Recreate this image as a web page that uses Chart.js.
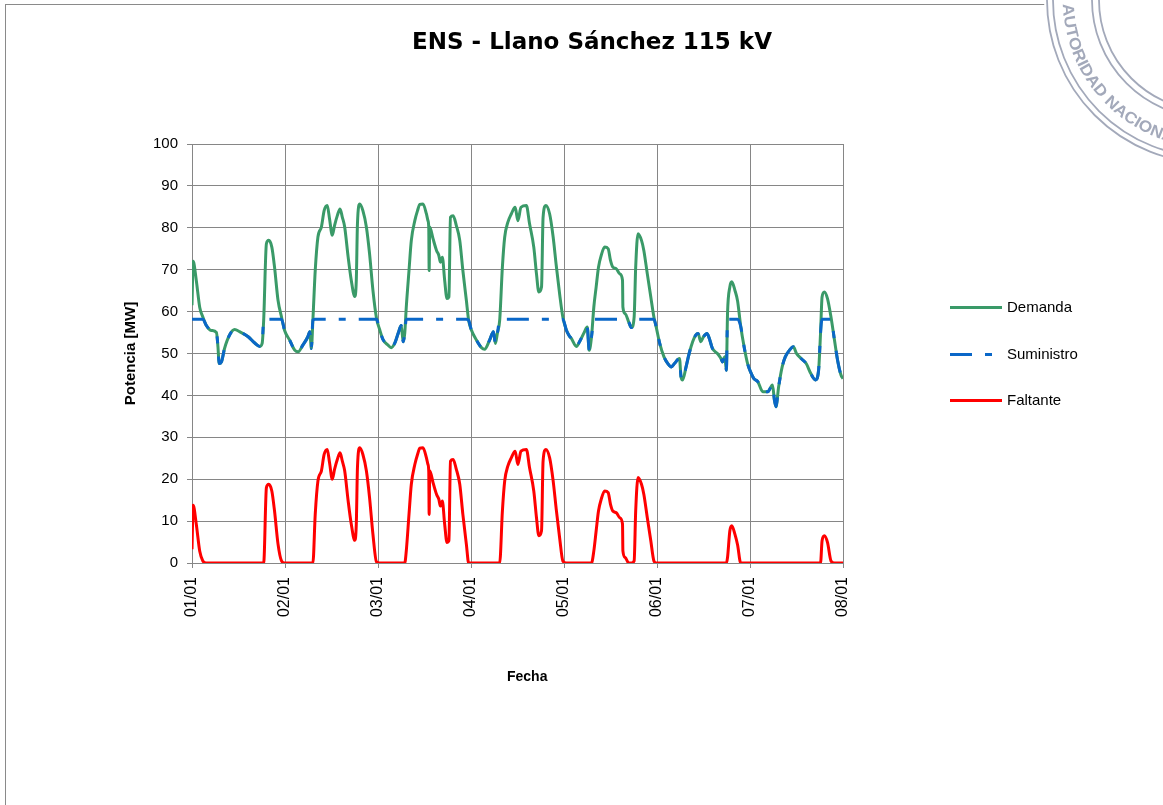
<!DOCTYPE html>
<html>
<head>
<meta charset="utf-8">
<script src="https://cdn.jsdelivr.net/npm/chart.js@4.4.1/dist/chart.umd.min.js"></script>
<style>
  html, body { margin:0; padding:0; background:#fff; width:1163px; height:805px; overflow:hidden; }
  #frame { position:absolute; left:5px; top:4px; width:1200px; height:850px; border:1px solid #8a8a8a; box-sizing:border-box; }
  #wrap { position:absolute; left:6px; top:5px; width:1172px; height:815px; }
  #stamp { position:absolute; left:0; top:0; pointer-events:none; }
</style>
</head>
<body>
<div id="frame"></div>
<div id="wrap"><canvas id="c" width="1172" height="815"></canvas></div>
<svg id="stamp" width="1163" height="805" xmlns="http://www.w3.org/2000/svg">
  <defs><path id="arc" d="M 1063 4 A 147 147 0 0 0 1200 147"></path></defs>
  <circle cx="1210" cy="0" r="166" fill="#ffffff"></circle>
  <g fill="none" stroke="#a3a9ba" stroke-width="1.8">
    <circle cx="1210" cy="0" r="163"></circle>
    <circle cx="1210" cy="0" r="157"></circle>
    <circle cx="1210" cy="0" r="118"></circle>
    <circle cx="1210" cy="0" r="111"></circle>
  </g>
  <text font-family="'Liberation Sans', sans-serif" font-weight="bold" font-size="16" fill="#a3a9ba"><textPath href="#arc" textLength="200" lengthAdjust="spacingAndGlyphs">AUTORIDAD NACIONAL</textPath></text>
</svg>
<script>
// ---- data (x in hours from 01/01 00:00) ----
const dayLabels = ['01/01','02/01','03/01','04/01','05/01','06/01','07/01','08/01'];

const hours = [
  0,0.3,1.1,2.0,2.8,3.7,5.0,6.3,6.7,7.0,
  7.6,8.4,9.7,11.0,12.3,14.5,16.2,17.5,18.1,18.5,
  19.2,19.8,20.6,21.3,22.2,23.1,23.9,25.2,26.5,27.4,
  28.6,29.9,30.4,30.8,31.2,31.8,32.5,33.4,34.1,34.9,
  35.5,36.2,36.8,37.5,38.2,38.8,39.4,40.3,41.1,42.0,
  42.4,42.7,43.3,44.1,45.0,45.8,46.7,47.6,48.4,49.3,
  50.6,51.4,52.3,53.2,54.0,54.5,54.9,55.3,56.0,56.6,
  57.5,58.2,58.8,59.6,60.5,60.9,61.1,61.2,61.35,62.2,
  63.1,63.7,64.1,64.6,65.2,65.8,66.3,66.7,67.4,68.2,
  69.1,69.9,70.8,71.4,72.1,73.4,74.7,75.5,76.8,77.8,
  78.3,78.8,79.4,80.1,80.7,81.5,82.4,83.4,84.1,84.9,
  86.3,87.1,88.2,88.9,89.5,90.2,90.6,91.3,92.3,93.2,
  94.0,94.9,95.7,96.6,97.3,97.9,99.2,100.0,101.3,102.0,
  102.5,103.1,103.7,104.3,104.9,105.6,106.5,107.4,108.0,108.6,
  109.5,110.4,111.1,111.2,111.8,112.7,113.4,114.1,114.5,115.1,
  116.0,116.6,117.5,118.4,119.2,119.8,120.7,121.8,122.8,123.7,
  124.5,125.8,126.2,126.6,127.5,128.3,129.2,130.0,130.6,131.3,
  132.0,132.9,133.5,134.3,135.6,136.5,136.9,137.5,137.9,138.2,
  138.8,139.3,140.1,140.8,141.6,142.5,143.4,144.2,145.0,146.0,
  147.3,148.6,149.8,150.3,150.7,151.4,152.3,153.1,154.2,155.2,
  156.0,157.2,158.5,159.7,160.9,161.7,162.2,162.6,163.2,164.0,
  164.9,165.8,166.6,167.5,168
];

const demanda = [
  61.5,72,67.5,61,58.7,56.7,55.5,55,51.6,47.6,
  48,51.2,54.4,55.7,55.2,54,52.5,51.7,52.4,58,
  76.2,77,75.4,70.6,62.7,58.7,55.5,53.2,50.8,50.4,
  52,54,55.2,51.2,58,69.8,77.8,80.2,84.1,85.3,
  82.1,78.2,80.6,82.9,84.5,82.5,80.2,73,67.5,63.6,
  67.5,81,85.7,84.1,80.2,74,65,58.5,55.8,53.3,
  52,51.4,52.4,54.8,56.7,52.8,54.8,61.1,69.8,77,
  81.7,84.1,85.6,85.7,83.3,81.7,80,69.8,80.2,77.4,
  74.6,73.4,71.8,73,67.5,63.1,63.5,82.5,82.9,80.6,
  77,69.8,62.7,57.9,55.6,53.2,51.4,51,53.2,55.2,
  52.4,54.8,57.9,70.6,77.8,81.3,83.3,84.9,81.7,84.9,
  85.3,81,75.4,69,64.7,65.9,82.5,85.3,83.3,77.8,
  71,64,58.7,55.6,54.3,53.6,51.7,52.8,55.2,56.3,
  50.8,54,61.1,65.9,70.6,73.4,75.4,75,72.2,70.6,
  70.2,69,67.5,61.1,59.5,57.5,56.2,58.7,70.6,78.6,
  77,74.6,69,63.5,58.7,56.3,52.4,49.2,47.6,46.8,
  47.6,48.8,44.4,43.7,46.8,50,52.8,54.4,54.8,52.8,
  54,54.8,53.6,51.2,50,48.8,48,49.2,46,59.5,
  65.9,67.1,65.1,62.5,56.5,51.5,47.5,45.5,44,43.3,
  40.9,40.9,42.5,38.9,37.3,42.1,46.8,49.2,50.8,51.6,
  50,48.8,47.6,45.2,43.7,46,54.8,63.5,64.7,63.1,
  58.7,53.2,48.4,44.8,44
];

const suministro = [
  58.2,58.2,58.2,58.2,58.2,56.7,55.5,55,51.6,47.6,
  48,51.2,54.4,55.7,55.2,54,52.5,51.7,52.4,58,
  58.2,58.2,58.2,58.2,58.2,58.2,55.5,53.2,50.8,50.4,
  52,54,55.2,51.2,58,58.2,58.2,58.2,58.2,58.2,
  58.2,58.2,58.2,58.2,58.2,58.2,58.2,58.2,58.2,58.2,
  58.2,58.2,58.2,58.2,58.2,58.2,58.2,58.2,55.8,53.3,
  52,51.4,52.4,54.8,56.7,52.8,54.8,58.2,58.2,58.2,
  58.2,58.2,58.2,58.2,58.2,58.2,58.2,58.2,58.2,58.2,
  58.2,58.2,58.2,58.2,58.2,58.2,58.2,58.2,58.2,58.2,
  58.2,58.2,58.2,57.9,55.6,53.2,51.4,51,53.2,55.2,
  52.4,54.8,57.9,58.2,58.2,58.2,58.2,58.2,58.2,58.2,
  58.2,58.2,58.2,58.2,58.2,58.2,58.2,58.2,58.2,58.2,
  58.2,58.2,58.2,55.6,54.3,53.6,51.7,52.8,55.2,56.3,
  50.8,54,58.2,58.2,58.2,58.2,58.2,58.2,58.2,58.2,
  58.2,58.2,58.2,58.2,58.2,57.5,56.2,58.2,58.2,58.2,
  58.2,58.2,58.2,58.2,58.2,56.3,52.4,49.2,47.6,46.8,
  47.6,48.8,44.4,43.7,46.8,50,52.8,54.4,54.8,52.8,
  54,54.8,53.6,51.2,50,48.8,48,49.2,46,58.2,
  58.2,58.2,58.2,58.2,56.5,51.5,47.5,45.5,44,43.3,
  40.9,40.9,42.5,38.9,37.3,42.1,46.8,49.2,50.8,51.6,
  50,48.8,47.6,45.2,43.7,46,54.8,58.2,58.2,58.2,
  58.2,53.2,48.4,44.8,44
];

const faltante = [
  3.3,13.8,9.3,2.8,0.5,0,0,0,0,0,
  0,0,0,0,0,0,0,0,0,0,
  18,18.8,17.2,12.4,4.5,0.5,0,0,0,0,
  0,0,0,0,0,11.6,19.6,22,25.9,27.1,
  23.9,20,22.4,24.7,26.3,24.3,22,14.8,9.3,5.4,
  9.3,22.8,27.5,25.9,22,15.8,6.8,0.3,0,0,
  0,0,0,0,0,0,0,2.9,11.6,18.8,
  23.5,25.9,27.4,27.5,25.1,23.5,21.8,11.6,22,19.2,
  16.4,15.2,13.6,14.8,9.3,4.9,5.3,24.3,24.7,22.4,
  18.8,11.6,4.5,0,0,0,0,0,0,0,
  0,0,0,12.4,19.6,23.1,25.1,26.7,23.5,26.7,
  27.1,22.8,17.2,10.8,6.5,7.7,24.3,27.1,25.1,19.6,
  12.8,5.8,0.5,0,0,0,0,0,0,0,
  0,0,2.9,7.7,12.4,15.2,17.2,16.8,14,12.4,
  12,10.8,9.3,2.9,1.3,0,0,0.5,12.4,20.4,
  18.8,16.4,10.8,5.3,0.5,0,0,0,0,0,
  0,0,0,0,0,0,0,0,0,0,
  0,0,0,0,0,0,0,0,0,1.3,
  7.7,8.9,6.9,4.3,0,0,0,0,0,0,
  0,0,0,0,0,0,0,0,0,0,
  0,0,0,0,0,0,0,5.3,6.5,4.9,
  0.5,0,0,0,0
];

const seriesNames = ['Demanda','Suministro','Faltante'];

// ---- chart ----
const toXY = vals => vals.map((v, i) => ({ x: hours[i], y: v }));
const FONT = "'Liberation Sans', Arial, sans-serif";
Chart.defaults.font.family = FONT;
Chart.defaults.color = '#000';

const sideLegend = {
  id: 'sideLegend',
  afterDraw(chart) {
    const ctx = chart.ctx, ca = chart.chartArea;
    const mid = (ca.top + ca.bottom) / 2;
    const x0 = ca.right + 107;
    chart.data.datasets.forEach((ds, i) => {
      const y = Math.round(mid + (i - 1) * 46.5) + 0.5;
      ctx.save();
      ctx.strokeStyle = ds.borderColor;
      ctx.lineWidth = ds.borderWidth;
      ctx.lineCap = 'butt';
      ctx.setLineDash(ds.borderDash || []);
      ctx.beginPath(); ctx.moveTo(x0, y); ctx.lineTo(x0 + 52, y); ctx.stroke();
      ctx.setLineDash([]);
      ctx.fillStyle = '#000';
      ctx.font = '15px ' + FONT;
      ctx.textBaseline = 'middle';
      ctx.fillText(ds.label, x0 + 57, y);
      ctx.restore();
    });
  }
};

new Chart(document.getElementById('c'), {
  type: 'line',
  data: {
    datasets: [
      { label: seriesNames[0], data: toXY(demanda), borderColor: '#3a9a68', borderWidth: 3, order: 3 },
      { label: seriesNames[1], data: toXY(suministro), borderColor: '#0a67c8', borderWidth: 3, borderDash: [22, 13, 7, 13], order: 2 },
      { label: seriesNames[2], data: toXY(faltante), borderColor: '#ff0000', borderWidth: 3, order: 1 }
    ]
  },
  options: {
    responsive: false,
    animation: false,
    events: [],
    layout: { padding: 0 },
    elements: {
      point: { radius: 0 },
      line: { cubicInterpolationMode: 'monotone', borderJoinStyle: 'round', fill: false }
    },
    plugins: {
      legend: { display: false },
      tooltip: { enabled: false },
      title: {
        display: true,
        text: 'ENS - Llano Sánchez 115 kV',
        color: '#000',
        font: { family: "'DejaVu Sans', sans-serif", size: 23, weight: 'bold', lineHeight: 1.2 },
        padding: { top: 24.2, bottom: 87.2 }
      }
    },
    scales: {
      x: {
        type: 'linear',
        min: 0, max: 168,
        afterFit: s => { s.height = 257; },
        ticks: {
          stepSize: 24, autoSkip: false, maxRotation: 90, minRotation: 90, padding: 9,
          font: { size: 16 }, color: '#000',
          callback: v => dayLabels[Math.round(v / 24)]
        },
        grid: { color: '#868686', lineWidth: 1, tickLength: 5 },
        border: { color: '#868686', width: 1 },
        title: {
          display: true, text: '     Fecha', color: '#000',
          font: { size: 14, weight: 'bold', lineHeight: 1.2 },
          padding: { top: 0, bottom: 134.6 }
        }
      },
      y: {
        min: 0, max: 100,
        afterFit: s => { s.width = 186; },
        ticks: { stepSize: 10, padding: 9, font: { size: 15 }, color: '#000' },
        grid: { color: '#868686', lineWidth: 1, tickLength: 5 },
        border: { color: '#868686', width: 1 },
        title: {
          display: true, text: 'Potencia [MW]', color: '#000',
          font: { size: 15, weight: 'bold', lineHeight: 1.2 },
          padding: { top: 116, bottom: 0 }
        }
      },
      legendSpace: {
        position: 'right',
        display: true,
        afterFit: s => { s.width = 335; },
        grid: { display: false },
        border: { display: false },
        ticks: { display: false }
      }
    }
  },
  plugins: [sideLegend]
});
</script>
</body>
</html>
